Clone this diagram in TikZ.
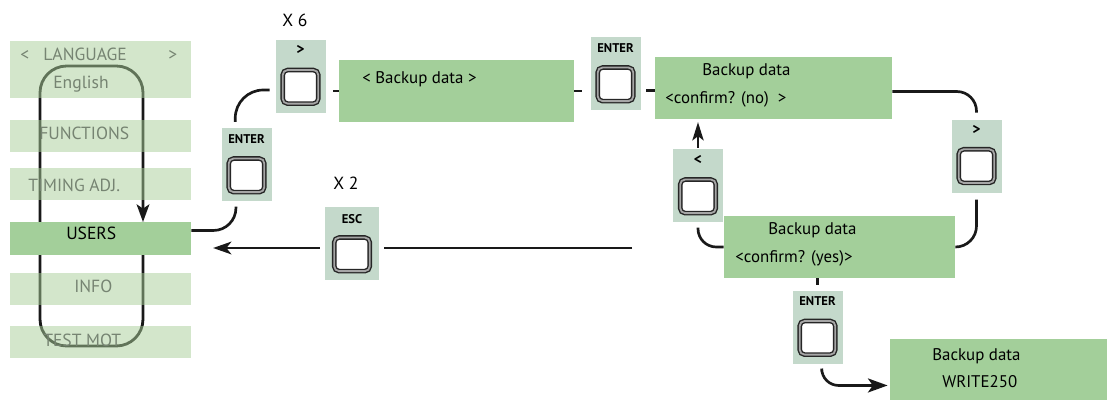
\documentclass[tikz,border=0pt]{standalone}
\usepackage{fontspec}
\setmainfont{PT Sans}
\usetikzlibrary{arrows.meta, positioning}

\definecolor{rowgreen}{RGB}{167,205,151}
\definecolor{dispgreen}{RGB}{163,207,154}
\definecolor{keygreen}{RGB}{196,217,203}
\definecolor{rowtext}{RGB}{118,132,114}

\begin{document}
\begin{tikzpicture}[x=0.025cm, y=-0.025cm, >=Stealth,
		row/.style={rectangle, fill=rowgreen, fill opacity=0.5, inner sep=0pt, minimum width=181*0.025cm, minimum height=32*0.025cm},
		rowtxt/.style={text=rowtext, font=\fontsize{12.5}{12.5}\selectfont, inner sep=0pt, anchor=base west},
		disp/.style={rectangle, fill=dispgreen, inner sep=0pt},
		disptxt/.style={font=\fontsize{12}{12}\selectfont, inner sep=0pt, anchor=base west},
		keybox/.style={rectangle, fill=keygreen, inner sep=0pt, minimum width=50*0.025cm, minimum height=73*0.025cm},
		keylbl/.style={font=\fontsize{9}{9}\selectfont\bfseries, inner sep=0pt},
		keycap/.style={draw=black!85, line width=1pt, double=black!35, double distance=1.3pt, fill=white, rounded corners=3.5pt, inner sep=0pt, minimum width=0.89cm, minimum height=0.84cm},
		conn/.style={line width=1.9pt, black!90}]

		\useasboundingbox (0,0) rectangle (1107,400);

		% Menu loop (under the rows)
		\coordinate (loopTR) at (143,66);
		\coordinate (loopBL) at (40,346);
		\coordinate (usersIn) at (143,222);
		\draw[conn, line width=2pt, rounded corners=19pt, -{Stealth[length=12.5pt, width=9pt, inset=3pt]}]
			(usersIn) |- (loopBL) -- (loopBL |- loopTR) -- (loopTR) -- (usersIn);

		% Menu rows
		\node[row, minimum height=57*0.025cm] (language) at (100.5,69.5) {};
		\node[row] (functions) at (100.5,136) {};
		\node[row] (timing) at (100.5,184.5) {};
		\node[row, fill=dispgreen, fill opacity=1, minimum height=33*0.025cm] (users) at (100.5,238.5) {};
		\node[row] (info) at (100.5,289.5) {};
		\node[row] (testmot) at (100.5,342) {};

		\node[rowtxt] (lang_l) at (20,61) {<};
		\node[rowtxt] (lang_t) at (43,61) {LANGUAGE};
		\node[rowtxt] (lang_r) at (168,61) {>};
		\node[rowtxt] (english) at (53,89) {English};
		\node[rowtxt] (functions_t) at (39,140) {FUNCTIONS};
		\node[rowtxt] (timing_t) at (28,192) {TIMING ADJ.};
		\node[rowtxt, text=black] (users_t) at (66,240) {USERS};
		\node[rowtxt] (info_t) at (74,293) {INFO};
		\node[rowtxt] (testmot_t) at (43,346) {TEST MOT};

		% Keys
		\node[keybox] (k_next6) at (300.5,76.5) {};
		\node[keylbl, font=\fontsize{11}{11}\selectfont\bfseries] (k_next6_l) at ([yshift=-7.5pt]k_next6.north) {>};
		\node[keycap] (k_next6_c) at ([yshift=-33.5pt]k_next6.north) {};
		\node[disptxt, font=\fontsize{12.5}{12.5}\selectfont] (times6) at (282,27) {X 6};

		\node[keybox] (k_enterl) at (246.5,165) {};
		\node[keylbl] (k_enterl_l) at ([yshift=-8pt]k_enterl.north) {ENTER};
		\node[keycap] (k_enterl_c) at ([yshift=-33.5pt]k_enterl.north) {};

		\node[keybox] (k_entert) at (615.5,74) {};
		\node[keylbl] (k_entert_l) at ([yshift=-8pt]k_entert.north) {ENTER};
		\node[keycap] (k_entert_c) at ([yshift=-33.5pt]k_entert.north) {};

		\node[keybox, minimum width=54*0.025cm] (k_esc) at (352,244) {};
		\node[keylbl] (k_esc_l) at ([yshift=-8.5pt]k_esc.north) {ESC};
		\node[keycap] (k_esc_c) at ([yshift=-33.5pt]k_esc.north) {};
		\node[disptxt, font=\fontsize{12.5}{12.5}\selectfont] (times2) at (333,190) {X 2};

		\node[keybox] (k_prev) at (698,186) {};
		\node[keylbl, font=\fontsize{11}{11}\selectfont\bfseries] (k_prev_l) at ([yshift=-8pt]k_prev.north) {<};
		\node[keycap] (k_prev_c) at ([yshift=-33.5pt]k_prev.north) {};

		\node[keybox] (k_next) at (976.5,156.5) {};
		\node[keylbl, font=\fontsize{11}{11}\selectfont\bfseries] (k_next_l) at ([yshift=-7pt]k_next.north) {>};
		\node[keycap] (k_next_c) at ([yshift=-33pt]k_next.north) {};

		\node[keybox] (k_enterb) at (817.5,327.5) {};
		\node[keylbl] (k_enterb_l) at ([yshift=-7.5pt]k_enterb.north) {ENTER};
		\node[keycap] (k_enterb_c) at ([yshift=-33.5pt]k_enterb.north) {};

		% Displays
		\node[disp, minimum width=235*0.025cm, minimum height=62*0.025cm] (bkp) at (456.5,91) {};
		\node[disptxt] (bkp_t) at (362,84) {< Backup data >};

		\node[disp, minimum width=237*0.025cm, minimum height=62*0.025cm] (cf_no) at (773.5,88) {};
		\node[disptxt] (cf_no_t1) at (702,76) {Backup data};
		\node[disptxt] (cf_no_t2) at (665,104) {<confirm? (no)\ \ >};

		\node[disp, minimum width=231*0.025cm, minimum height=62*0.025cm] (cf_yes) at (839.5,247) {};
		\node[disptxt] (cf_yes_t1) at (768,235) {Backup data};
		\node[disptxt] (cf_yes_t2) at (735,263) {<confirm? (yes)>};

		\node[disp, minimum width=217*0.025cm, minimum height=62*0.025cm] (write) at (998.5,370) {};
		\node[disptxt] (write_t1) at (932,361) {Backup data};
		\node[disptxt] (write_t2) at (942,388) {WRITE250};

		% Links
		\draw[conn, rounded corners=16pt] ([yshift=5.7pt]users.east) -| ([xshift=-7.5pt, yshift=-3.5pt]k_enterl.south);
		\draw[conn, rounded corners=20pt] ([xshift=-8pt, yshift=4.5pt]k_enterl.north) |- ([xshift=-4pt, yshift=-9.6pt]k_next6.west);
		\draw[conn, shorten >=5pt] (bkp.west) -- (bkp.west -| k_next6.east);
		\draw[conn, shorten >=6pt] (bkp.east) -- (bkp.east -| k_entert.west);
		\draw[conn, shorten <=4pt] ([yshift=-2pt]cf_no.west -| k_entert.east) -- ([yshift=-2pt]cf_no.west);
		\draw[conn, rounded corners=14pt] ([yshift=-2.5pt]cf_no.east) -| ([yshift=5pt]k_next.north);
		\draw[conn, rounded corners=15pt] ([yshift=-4.5pt]k_next.south) |- (cf_yes.east);
		\draw[conn, rounded corners=13pt] (cf_yes.west) -| ([yshift=-3.5pt]k_prev.south);
		\draw[conn, shorten <=1pt, shorten >=2pt, -{Stealth[length=13pt, width=8pt, inset=3pt]}] (k_prev.north) -- (k_prev.north |- cf_no.south);
		\draw[conn, shorten >=4pt] (cf_yes.south -| k_enterb.north) -- (k_enterb.north);
		\draw[conn, rounded corners=12pt, shorten >=1.5pt, -{Stealth[length=14pt, width=10pt, inset=3.5pt]}] ([xshift=3pt, yshift=-5pt]k_enterb.south) |- ([yshift=-11pt]write.west);

		% Esc back to USERS
		\coordinate (escfrom) at (632,248);
		\draw[conn, shorten >=3pt] (escfrom) -- (escfrom -| k_esc.east);
		\draw[conn, shorten <=3.5pt, shorten >=15.5pt, -{Stealth[length=13pt, width=9pt, inset=3.5pt]}] (escfrom -| k_esc.west) -- (escfrom -| users.east);

	\end{tikzpicture}
\end{document}
